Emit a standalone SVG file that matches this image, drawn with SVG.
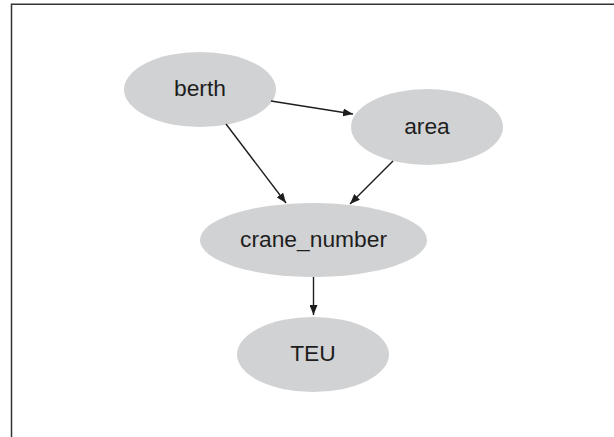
<svg xmlns="http://www.w3.org/2000/svg" width="614" height="437" viewBox="0 0 614 437">
<defs>
<style>
.node ellipse{fill:#d1d2d4;stroke:none}
.node text{font-family:"Liberation Sans",Arial,sans-serif;font-size:22.8px;fill:#1e1e1e;text-anchor:middle}
.edges line{stroke:#1e1e1e;stroke-width:1.4;marker-end:url(#arr)}
</style>
<marker id="arr" viewBox="0 0 10 8" refX="10" refY="4" markerWidth="10" markerHeight="8" markerUnits="userSpaceOnUse" orient="auto">
<path d="M0,0 L10,4 L0,8 z" fill="#1e1e1e"/>
</marker>
</defs>
<rect width="614" height="437" fill="#fff"/>
<path d="M11.5,437 V4.2 H614" fill="none" stroke="#333" stroke-width="1.5"/>
<g id="berth" class="node"><ellipse cx="200" cy="89.5" rx="76" ry="37.5"/><text x="200" y="96">berth</text></g>
<g id="area" class="node"><ellipse cx="427" cy="127" rx="76" ry="38"/><text x="427" y="133.5">area</text></g>
<g id="crane_number" class="node"><ellipse cx="313.5" cy="240" rx="113.5" ry="37"/><text x="313.5" y="246.5">crane_number</text></g>
<g id="TEU" class="node"><ellipse cx="313" cy="354.5" rx="76" ry="37.5"/><text x="313" y="361">TEU</text></g>
<g id="connectors" class="edges">
<line x1="271" y1="101" x2="353" y2="114"/>
<line x1="226" y1="124" x2="286" y2="203"/>
<line x1="393" y1="161" x2="350" y2="204"/>
<line x1="313.5" y1="277" x2="313.5" y2="315"/>
</g>
</svg>
